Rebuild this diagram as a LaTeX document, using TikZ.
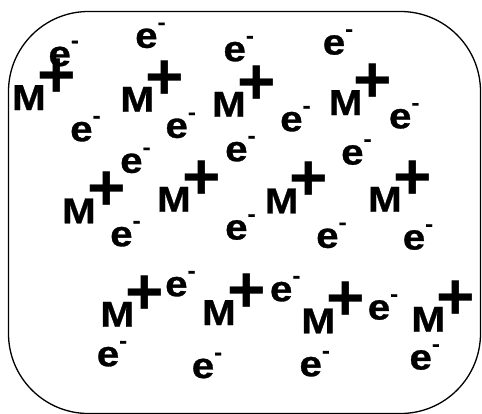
\documentclass[tikz,border=0pt]{standalone}
\usepackage{fontspec}
\setmainfont{Liberation Sans}
\newfontfamily\ionfont[FakeBold=0.8]{Liberation Sans Bold}
\newfontfamily\plusfont{Liberation Sans Bold}
\usepackage{graphicx}
\newcommand\Mtext{\scalebox{1.12}[1]{\fontsize{36}{36}\ionfont M}\rlap{\kern-8.5pt\raisebox{12.5pt}{\fontsize{66}{66}\plusfont +}}}
\newcommand\Etext{\scalebox{1.12}[1]{\fontsize{36}{36}\ionfont e\raisebox{18.5pt}{\fontsize{21}{21}\ionfont -}}}
\tikzset{ion/.style={inner sep=0pt, outer sep=0pt, anchor=base west}}
\begin{document}
\begin{tikzpicture}[x=1pt,y=-1pt]
\useasboundingbox (0,0) rectangle (482,413);
\draw[line width=1.3pt, rounded corners=80pt] (8.5,11.5) rectangle (480.5,413.5);
\foreach \x/\y [count=\i] in {15/110, 123.3/111.7, 215/116.7, 331.7/115,
  65/223.3, 160/211.7, 267.7/213.3, 371/211.7,
  103.3/326.7, 205/325, 304.3/333.3, 414.3/331.7}
  \node[ion] (m\i) at (\x-2.85,\y) {\Mtext};
\foreach \x/\y [count=\i] in {50/66.5, 136.7/48.3, 225/61.7, 324.3/55,
  71.7/141.7, 167/138.3, 281.7/131.7, 390.5/128.8,
  121.7/173.3, 226.7/161.7, 342.7/165, 111.7/246.7, 226.7/240, 317.7/248.3, 404.3/250,
  166.7/296.7, 271.5/301.7, 369.3/320, 98.3/366.7, 193.3/378.5, 301/376.7, 411/370}
  \node[ion] (e\i) at (\x-1.5,\y-0.5) {\Etext};
\end{tikzpicture}
\end{document}
